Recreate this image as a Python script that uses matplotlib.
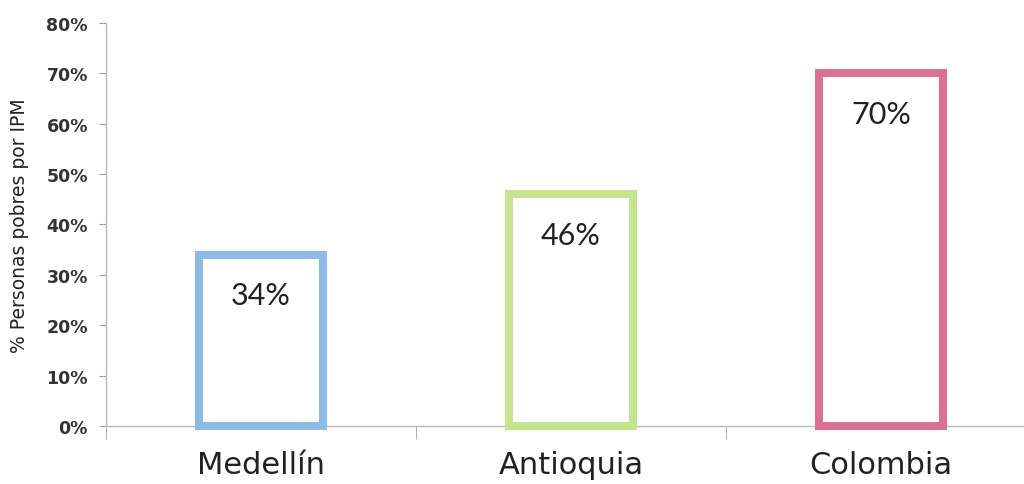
import matplotlib.pyplot as plt
from matplotlib.ticker import FuncFormatter

categories = ['Medellín', 'Antioquia', 'Colombia']
values = [34, 46, 70]
labels = ['34%', '46%', '70%']
colors = ['#8DBBE5', '#C5E490', '#DC7196']

fig = plt.figure(figsize=(10.24, 4.85), dpi=100)
ax = fig.add_axes([106 / 1024, 58 / 485, 930 / 1024, 403 / 485])

x = range(len(categories))
bars = ax.bar(x, values, width=0.40, facecolor='white', edgecolor=colors,
              linewidth=5.8, clip_on=False, zorder=3)

for b, lab in zip(bars, labels):
    ax.text(b.get_x() + b.get_width() / 2, b.get_height() - 5.3, lab,
            ha='center', va='top', fontsize=22, family='Lato', color='#222222')

ax.set_xlim(-0.5, 2.5)
ax.set_ylim(0, 80)
ax.set_yticks(range(0, 81, 10))
ax.yaxis.set_major_formatter(FuncFormatter(lambda v, p: f'{int(v)}%'))
for t in ax.get_yticklabels():
    t.set_fontweight('semibold')
ax.tick_params(axis='y', labelsize=12.5, length=5, color='#A0A0A0', labelcolor='#333333', pad=8)

ax.set_xticks(list(x))
ax.set_xticklabels(categories, fontsize=22, family='DejaVu Sans', color='#222222')
ax.tick_params(axis='x', which='major', length=0, pad=17)
ax.set_xticks([-0.5, 0.5, 1.5], minor=True)
ax.tick_params(axis='x', which='minor', length=9, color='#A0A0A0')

ax.set_ylabel('% Personas pobres por IPM', fontsize=13.5, color='#222222')
ax.yaxis.set_label_coords(-0.083, 0.5)

for s in ['top', 'right']:
    ax.spines[s].set_visible(False)
for s in ['left', 'bottom']:
    ax.spines[s].set_color('#B8B8B8')
    ax.spines[s].set_linewidth(1)

fig.savefig('out.png', dpi=100)
